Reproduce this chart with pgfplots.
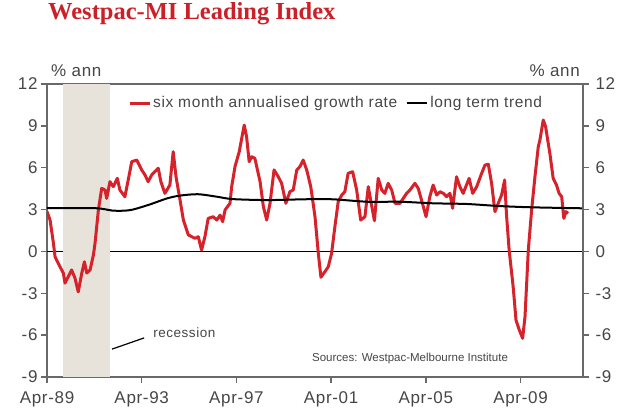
\documentclass[border=0pt]{standalone}
\usepackage{fontspec}
\setmainfont{Liberation Sans}
\newfontfamily\titlefont{Liberation Serif}
\newfontfamily\lsfont{Liberation Sans}[LetterSpace=4]
\usepackage{pgfplots}
\pgfplotsset{compat=1.18}
\definecolor{wred}{RGB}{214,34,42}
\definecolor{titlered}{RGB}{204,32,40}
\definecolor{axgray}{RGB}{105,105,105}
\definecolor{txtgray}{RGB}{70,70,70}
\definecolor{recess}{RGB}{231,226,218}

\pgfplotstableread{
x y
1989.25 2.86
1989.38 2.25
1989.52 0.60
1989.59 -0.38
1989.80 -1.10
1989.94 -1.55
1990.01 -2.27
1990.15 -1.80
1990.29 -1.33
1990.43 -1.90
1990.57 -2.90
1990.72 -1.55
1990.83 -0.74
1990.93 -1.55
1991.07 -1.33
1991.21 -0.26
1991.28 0.60
1991.42 2.97
1991.56 4.52
1991.70 4.40
1991.77 3.80
1991.91 5.00
1992.05 4.64
1992.22 5.24
1992.33 4.40
1992.54 3.92
1992.68 5.12
1992.83 6.43
1993.04 6.55
1993.25 5.84
1993.39 5.48
1993.52 5.00
1993.68 5.50
1993.95 5.96
1994.06 5.00
1994.23 4.16
1994.44 4.76
1994.58 7.15
1994.70 5.35
1994.87 3.68
1995.01 2.25
1995.22 1.18
1995.50 0.94
1995.64 1.05
1995.78 0.10
1995.92 1.05
1996.06 2.37
1996.27 2.49
1996.42 2.25
1996.56 2.60
1996.67 2.13
1996.77 2.97
1996.98 3.45
1997.05 4.64
1997.19 6.07
1997.37 7.15
1997.58 9.06
1997.68 8.22
1997.79 6.43
1997.89 6.79
1998.03 6.67
1998.25 5.00
1998.39 3.20
1998.53 2.25
1998.67 3.45
1998.84 5.84
1999.02 5.35
1999.16 4.88
1999.34 3.45
1999.51 4.28
1999.65 4.40
1999.80 5.84
1999.93 6.07
2000.07 6.55
2000.22 5.84
2000.39 4.64
2000.57 2.49
2000.71 -0.14
2000.82 -1.85
2000.99 -1.45
2001.13 -1.10
2001.27 -0.14
2001.41 1.77
2001.55 3.56
2001.70 4.04
2001.83 4.28
2001.97 5.60
2002.16 5.71
2002.33 4.40
2002.50 2.25
2002.68 2.49
2002.82 4.64
2002.95 3.40
2003.08 2.20
2003.24 5.24
2003.39 4.40
2003.52 4.16
2003.66 4.88
2003.81 4.40
2003.95 3.45
2004.16 3.45
2004.44 4.16
2004.58 4.40
2004.79 4.88
2004.93 4.52
2005.07 3.68
2005.26 2.49
2005.42 3.92
2005.56 4.76
2005.71 4.04
2005.85 4.28
2005.99 4.16
2006.13 3.92
2006.27 4.16
2006.38 3.09
2006.55 5.35
2006.69 4.64
2006.83 4.16
2006.94 4.64
2007.08 5.24
2007.23 4.16
2007.40 4.64
2007.61 5.60
2007.75 6.19
2007.89 6.25
2008.03 4.88
2008.17 2.85
2008.31 3.45
2008.45 4.04
2008.58 5.12
2008.66 2.60
2008.77 0.10
2008.94 -2.53
2009.06 -4.92
2009.20 -5.63
2009.34 -6.23
2009.44 -4.68
2009.58 0.10
2009.72 2.97
2009.86 5.35
2010.00 7.50
2010.07 7.99
2010.21 9.42
2010.31 8.94
2010.49 7.03
2010.63 5.24
2010.77 4.76
2010.88 4.16
2010.99 3.92
2011.08 2.37
2011.17 2.85
2011.26 2.73
}\growth

\pgfplotstableread{
x y
1989.25 3.10
1991.28 3.10
1992.00 2.93
1992.50 2.92
1992.88 3.00
1993.60 3.37
1994.32 3.80
1994.87 4.00
1995.63 4.10
1996.43 3.92
1997.10 3.75
1998.54 3.68
1999.93 3.73
2000.65 3.75
2001.40 3.73
2002.80 3.56
2004.16 3.56
2005.55 3.45
2006.97 3.40
2008.38 3.25
2009.77 3.16
2011.89 3.09
}\trend

\begin{document}
\begin{tikzpicture}
\path[use as bounding box] (0,0) rectangle (624pt,417pt);
\node[anchor=base west, font=\titlefont\bfseries\fontsize{24.5}{26}\selectfont, text=titlered, inner sep=0pt] at (48pt,397pt) {Westpac-MI Leading Index};
\node[anchor=base west, font=\lsfont\fontsize{17}{19}\selectfont, text=txtgray, inner sep=0pt] at (51pt,340pt) {\% ann};
\node[anchor=base east, font=\lsfont\fontsize{17}{19}\selectfont, text=txtgray, inner sep=0pt] at (580pt,340pt) {\% ann};
\begin{axis}[
  at={(47pt,40pt)}, anchor=south west, scale only axis,
  width=536pt, height=293pt,
  xmin=1989.25, xmax=2011.89, ymin=-9, ymax=12,
  xtick={1989.25,1993.25,1997.25,2001.25,2005.25,2009.25},
  xticklabels={Apr-89,Apr-93,Apr-97,Apr-01,Apr-05,Apr-09},
  ytick={-9,-6,-3,0,3,6,9,12},
  yticklabels={-9,-6,-3,0,3,6,9,12},
  ytick pos=left, xtick pos=bottom, tick align=outside,
  major tick length=6pt,
  tick style={axgray, line width=1.5pt},
  axis line style={axgray, line width=1.5pt},
  ticklabel style={font=\lsfont\fontsize{17}{19}\selectfont, text=txtgray},
  xticklabel style={yshift=-5pt},
  extra y ticks={0}, extra y tick labels={},
  extra y tick style={grid=major, major grid style={black, line width=0.8pt}, major tick length=0pt},
  legend style={at={(0.151,0.935)}, anchor=west, draw=none, fill=none,
    legend columns=2, font=\lsfont\fontsize{15.5}{18}\selectfont, text=txtgray,
    inner sep=0pt, row sep=0pt,
    /tikz/every even column/.append style={column sep=7pt}},
  legend image code/.code={\draw[#1] (0pt,0pt) -- (20pt,0pt);},
  legend cell align=left,
]
\addplot[fill=recess, draw=none, forget plot] coordinates {(1989.91,-9) (1989.91,12) (1991.93,12) (1991.93,-9)} -- cycle;
\addplot[wred, line width=3pt, line join=round] table[x=x,y=y] {\growth};
\addlegendentry{six month annualised growth rate}
\addplot[black, line width=2pt, smooth] table[x=x,y=y] {\trend};
\addlegendentry{long term trend}
\draw[black, line width=1.2pt] (axis cs:1992.00,-7.0) -- (axis cs:1993.35,-6.2);
\node[anchor=base west, font=\lsfont\fontsize{13.5}{15}\selectfont, text=txtgray, inner sep=0pt] at (axis cs:1993.73,-6.14) {recession};
\node[anchor=base west, font=\fontsize{11.5}{13}\selectfont, text=txtgray, inner sep=0pt] at (axis cs:2000.44,-7.86) {Sources: Westpac-Melbourne Institute};
\end{axis}
\begin{axis}[
  at={(47pt,40pt)}, anchor=south west, scale only axis,
  width=536pt, height=293pt,
  xmin=1989.25, xmax=2011.89, ymin=-9, ymax=12,
  axis y line*=right, axis x line=none,
  ytick={-9,-6,-3,0,3,6,9,12},
  yticklabels={-9,-6,-3,0,3,6,9,12},
  tick align=outside, major tick length=6pt,
  tick style={axgray, line width=1.5pt},
  axis line style={axgray, line width=1.5pt, -},
  ticklabel style={font=\lsfont\fontsize{17}{19}\selectfont, text=txtgray},
  yticklabel style={xshift=3pt},
]
\end{axis}
\end{tikzpicture}
\end{document}
